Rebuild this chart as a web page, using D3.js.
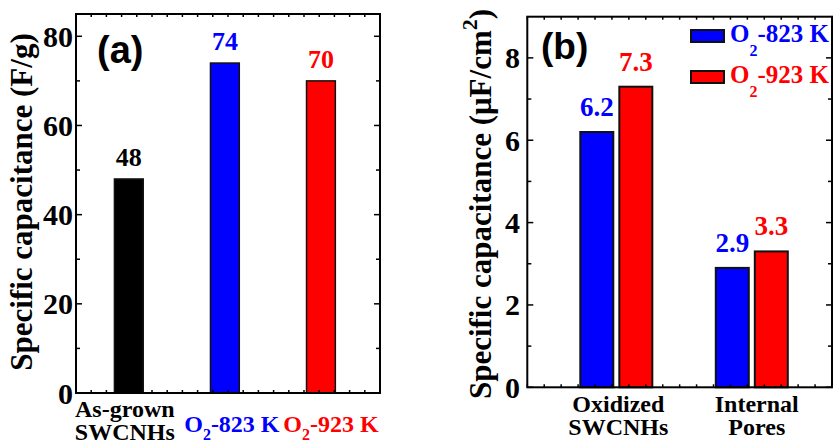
<!DOCTYPE html>
<html>
  <head>
    <meta charset="UTF-8" />
    <style>
      body { margin: 0; background: #fff; }
      svg { display: block; }
      text { font-family: "Liberation Serif", "Times New Roman", serif; font-weight: bold; }
      .tag { font-family: "Liberation Sans", Arial, sans-serif; }
    </style>
  </head>
  <body>
    <svg></svg>
    <script src="https://d3js.org/d3.v7.min.js"></script>
    <script>
      // ---- data ----
      const catsA = [["As-grown", "SWCNHs"], ["O", "2", "-823 K"], ["O", "2", "-923 K"]];
      const valsA = [48, 74, 70];
      const colorsA = ["#000000", "#0000ff", "#ff0000"];
      const ticksA = [0, 20, 40, 60, 80];

      const catsB = [["Oxidized", "SWCNHs"], ["Internal", "Pores"]];
      const seriesB = ["O2-823 K", "O2-923 K"];
      const valsB823 = [6.2, 2.9];
      const valsB923 = [7.3, 3.3];
      const colorsB = ["#0000ff", "#ff0000"];
      const ticksB = [0, 2, 4, 6, 8];

      let width = 833,
        height = 444;
      let svg = d3.select("svg").attr("width", width).attr("height", height);

      // helper: text like O<sub>2</sub>-823 K
      function subText(sel, main, sub, rest, subSize, drop) {
        sel.append("tspan").text(main);
        sel.append("tspan").attr("font-size", subSize).attr("dy", drop).text(sub);
        sel.append("tspan").attr("dy", -drop).text(rest);
      }

      // frame + ticks on all four sides, all pointing inward
      function frame(g, x0, x1, y, yTicks, yMinor, nx) {
        let y0 = y.range()[1], y1 = y.range()[0];
        let xt = d3.scaleLinear().domain([0, nx]).range([x0, x1]);
        let tk = g.append("g").attr("stroke", "#000").attr("stroke-width", 1.5);
        xt.ticks(nx).forEach((t) => {
          tk.append("line").attr("x1", xt(t)).attr("x2", xt(t)).attr("y1", y1).attr("y2", y1 - 3);
          tk.append("line").attr("x1", xt(t)).attr("x2", xt(t)).attr("y1", y0).attr("y2", y0 + 3);
        });
        yTicks.concat(yMinor).forEach((t) => {
          let len = yTicks.includes(t) ? 6 : 4;
          tk.append("line").attr("x1", x0).attr("x2", x0 + len).attr("y1", y(t)).attr("y2", y(t));
          tk.append("line").attr("x1", x1).attr("x2", x1 - len).attr("y1", y(t)).attr("y2", y(t));
        });
        g.append("rect")
          .attr("x", x0).attr("y", y0)
          .attr("width", x1 - x0).attr("height", y1 - y0)
          .attr("fill", "none").attr("stroke", "#000").attr("stroke-width", 2);
      }

      // ================= panel (a) =================
      let ga = svg.append("g");
      let ya = d3.scaleLinear().domain([0, 85]).range([393, 14]);
      let xa = d3.scaleLinear().domain([0.45, 3.615]).range([76, 380]);
      let bwA = xa(1.3) - xa(1);

      ga.selectAll("rect.bar")
        .data(valsA)
        .enter()
        .append("rect")
        .attr("class", "bar")
        .attr("x", (d, i) => xa(i + 1) - bwA / 2)
        .attr("y", (d) => ya(d))
        .attr("width", bwA)
        .attr("height", (d) => ya(0) - ya(d))
        .attr("fill", (d, i) => colorsA[i])
        .attr("stroke", "#111")
        .attr("stroke-width", 1.5);

      ga.selectAll("text.val")
        .data(valsA)
        .enter()
        .append("text")
        .attr("class", "val")
        .attr("x", (d, i) => xa(i + 1))
        .attr("y", (d) => ya(d) - 13)
        .attr("text-anchor", "middle")
        .attr("font-size", 26)
        .attr("fill", (d, i) => colorsA[i])
        .text((d) => d);

      frame(ga, 76, 380, ya, ticksA, [10, 30, 50, 70], 20);

      ga.selectAll("text.tick")
        .data(ticksA)
        .enter()
        .append("text")
        .attr("class", "tick")
        .attr("x", 73)
        .attr("y", (d) => ya(d))
        .attr("dy", "0.35em")
        .attr("text-anchor", "end")
        .attr("font-size", 30)
        .text((d) => d);

      // category labels
      let labA = ga.append("g").attr("font-size", 24);
      labA.append("text").attr("x", xa(1) - 4).attr("y", 417).attr("text-anchor", "middle").text(catsA[0][0]);
      labA.append("text").attr("x", xa(1) - 4).attr("y", 440).attr("text-anchor", "middle").text(catsA[0][1]);
      [1, 2].forEach((i) => {
        let t = labA.append("text")
          .attr("x", xa(i + 1) + (i == 1 ? 7 : 10))
          .attr("y", 432)
          .attr("text-anchor", "middle")
          .attr("fill", colorsA[i]);
        subText(t, catsA[i][0], catsA[i][1], catsA[i][2], 16, 8);
      });

      ga.append("text")
        .attr("transform", "translate(32," + 202 + ") rotate(-90)")
        .attr("text-anchor", "middle")
        .attr("font-size", 31)
        .text("Specific capacitance (F/g)");

      ga.append("text").attr("class", "tag")
        .attr("x", 97).attr("y", 63)
        .attr("font-size", 38)
        .text("(a)");

      // ================= panel (b) =================
      let gb = svg.append("g");
      let yb = d3.scaleLinear().domain([0, 9]).range([387.3, 16.7]);
      let xb = d3.scaleLinear().domain([0.343, 2.592]).range([527.3, 832]);
      let bwB = xb(1.2435) - xb(1);
      let offB = xb(1.144) - xb(1);

      [valsB823, valsB923].forEach((vals, s) => {
        let sx = s == 0 ? -offB : offB;
        gb.selectAll("rect.s" + s)
          .data(vals)
          .enter()
          .append("rect")
          .attr("class", "s" + s)
          .attr("x", (d, i) => xb(i + 1) + sx - bwB / 2)
          .attr("y", (d) => yb(d))
          .attr("width", bwB)
          .attr("height", (d) => yb(0) - yb(d))
          .attr("fill", colorsB[s])
          .attr("stroke", "#111")
          .attr("stroke-width", 2);

        gb.selectAll("text.v" + s)
          .data(vals)
          .enter()
          .append("text")
          .attr("class", "v" + s)
          .attr("x", (d, i) => xb(i + 1) + sx)
          .attr("y", (d) => yb(d) - 16)
          .attr("text-anchor", "middle")
          .attr("font-size", 27)
          .attr("fill", colorsB[s])
          .text((d) => d3.format(".1f")(d));
      });

      frame(gb, 527.3, 832, yb, ticksB, [1, 3, 5, 7], 18);

      gb.selectAll("text.tick")
        .data(ticksB)
        .enter()
        .append("text")
        .attr("class", "tick")
        .attr("x", 520)
        .attr("y", (d) => yb(d))
        .attr("dy", "0.35em")
        .attr("text-anchor", "end")
        .attr("font-size", 30)
        .text((d) => d);

      catsB.forEach((c, i) => {
        c.forEach((line, j) => {
          gb.append("text")
            .attr("x", xb(i + 1) + (i == 0 ? 2 : 5))
            .attr("y", 412 + j * 23)
            .attr("text-anchor", "middle")
            .attr("font-size", 24)
            .text(line);
        });
      });

      // y title with superscript
      let tb = gb.append("text")
        .attr("transform", "translate(491," + 204 + ") rotate(-90)")
        .attr("text-anchor", "middle")
        .attr("font-size", 31);
      tb.append("tspan").text("Specific capacitance (\u03bcF/cm");
      tb.append("tspan").attr("font-size", 22).attr("dy", -14).text("2");
      tb.append("tspan").attr("dy", 14).text(")");

      gb.append("text").attr("class", "tag")
        .attr("x", 541).attr("y", 59)
        .attr("font-size", 37)
        .text("(b)");

      // legend
      seriesB.forEach((s, i) => {
        let ly = 36 + i * 41;
        gb.append("rect")
          .attr("x", 691).attr("y", ly - 6)
          .attr("width", 33).attr("height", 12)
          .attr("fill", colorsB[i])
          .attr("stroke", "#111").attr("stroke-width", 2);
        let t = gb.append("text")
          .attr("x", 730).attr("y", ly + 6)
          .attr("font-size", 25)
          .attr("fill", colorsB[i]);
        subText(t, s.slice(0, 1), s.slice(1, 2), s.slice(2), 16, 14);
      });
    </script>
  </body>
</html>
